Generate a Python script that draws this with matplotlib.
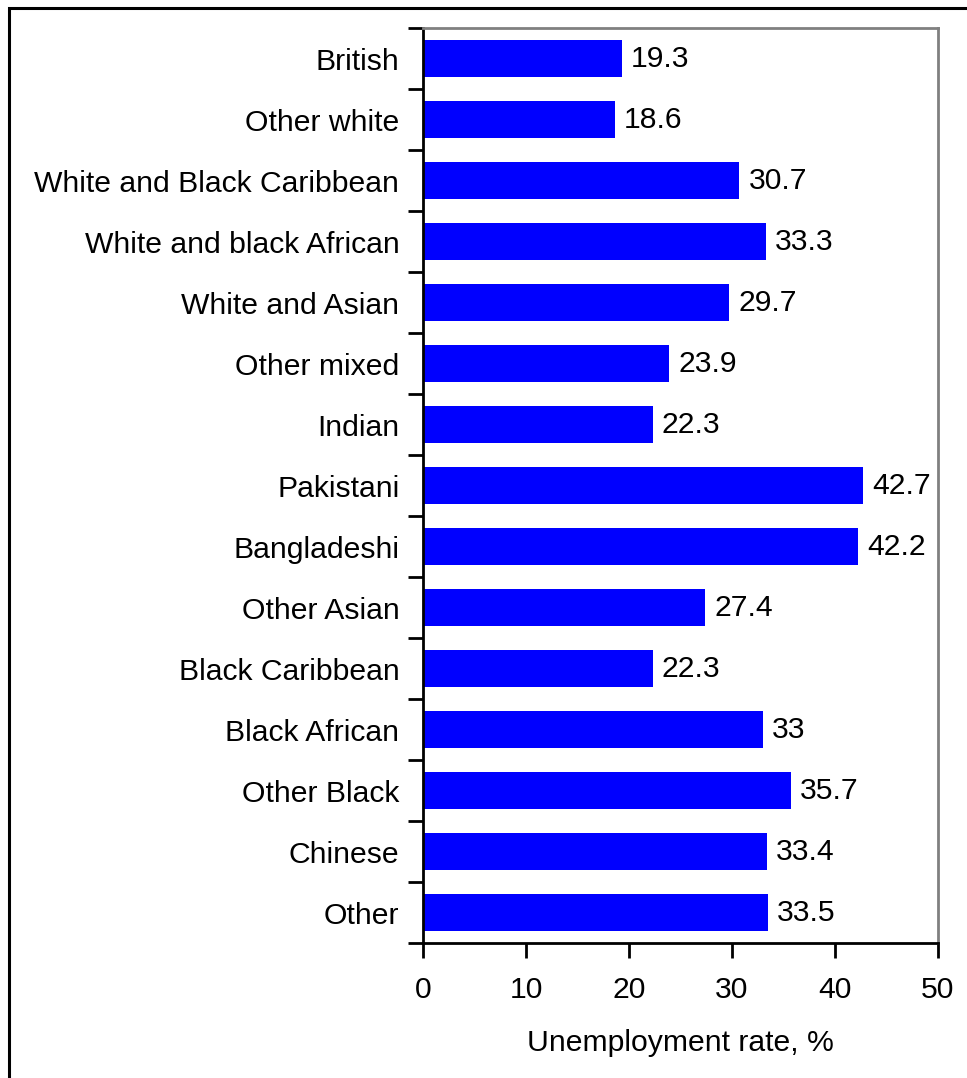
import matplotlib.pyplot as plt
from matplotlib.patches import Rectangle

# Data
groups = ['British', 'Other white', 'White and Black Caribbean',
          'White and black African', 'White and Asian', 'Other mixed',
          'Indian', 'Pakistani', 'Bangladeshi', 'Other Asian',
          'Black Caribbean', 'Black African', 'Other Black', 'Chinese', 'Other']
rates = [19.3, 18.6, 30.7, 33.3, 29.7, 23.9, 22.3, 42.7, 42.2, 27.4,
         22.3, 33, 35.7, 33.4, 33.5]
rate_labels = ['19.3', '18.6', '30.7', '33.3', '29.7', '23.9', '22.3', '42.7',
               '42.2', '27.4', '22.3', '33', '35.7', '33.4', '33.5']

plt.rcParams['font.family'] = ['Liberation Sans', 'DejaVu Sans']
fs = 21.7

fig = plt.figure(figsize=(9.67, 10.78), dpi=100)
ax = fig.add_axes([0.4374, 0.1252, 0.9700 - 0.4374, 0.974 - 0.1252])

ypos = list(range(len(groups)))
bars = ax.barh(ypos, rates, height=0.6, color='#0000ff')
for y, v, lab in zip(ypos, rates, rate_labels):
    ax.text(v + 0.9, y, lab, va='center', ha='left', fontsize=fs)

ax.set_xlim(0, 50)
ax.set_ylim(len(groups) - 0.5, -0.5)
ax.set_xticks([0, 10, 20, 30, 40, 50])
ax.tick_params(axis='x', direction='out', length=11, width=2, pad=12.5,
               labelsize=fs)
ax.set_yticks(ypos)
ax.set_yticklabels(groups)
ax.tick_params(axis='y', which='major', length=0, pad=17, labelsize=fs)
ax.set_yticks([i - 0.5 for i in range(len(groups) + 1)], minor=True)
ax.tick_params(axis='y', which='minor', direction='out', length=11, width=2)
ax.set_xlabel('Unemployment rate, %', fontsize=fs, labelpad=18)

ax.spines['left'].set_linewidth(2)
ax.spines['bottom'].set_linewidth(2)
ax.spines['top'].set_color('#808080')
ax.spines['right'].set_color('#808080')
ax.spines['top'].set_linewidth(2)
ax.spines['right'].set_linewidth(2)

# outer chart frame (cropped at right and bottom)
fig.patches.append(Rectangle((8.5 / 967, -0.1), 1.2, 1 - 7.5 / 1078 + 0.1,
                             transform=fig.transFigure, fill=False,
                             edgecolor='black', linewidth=2.2))

plt.savefig('out.png', dpi=100)
